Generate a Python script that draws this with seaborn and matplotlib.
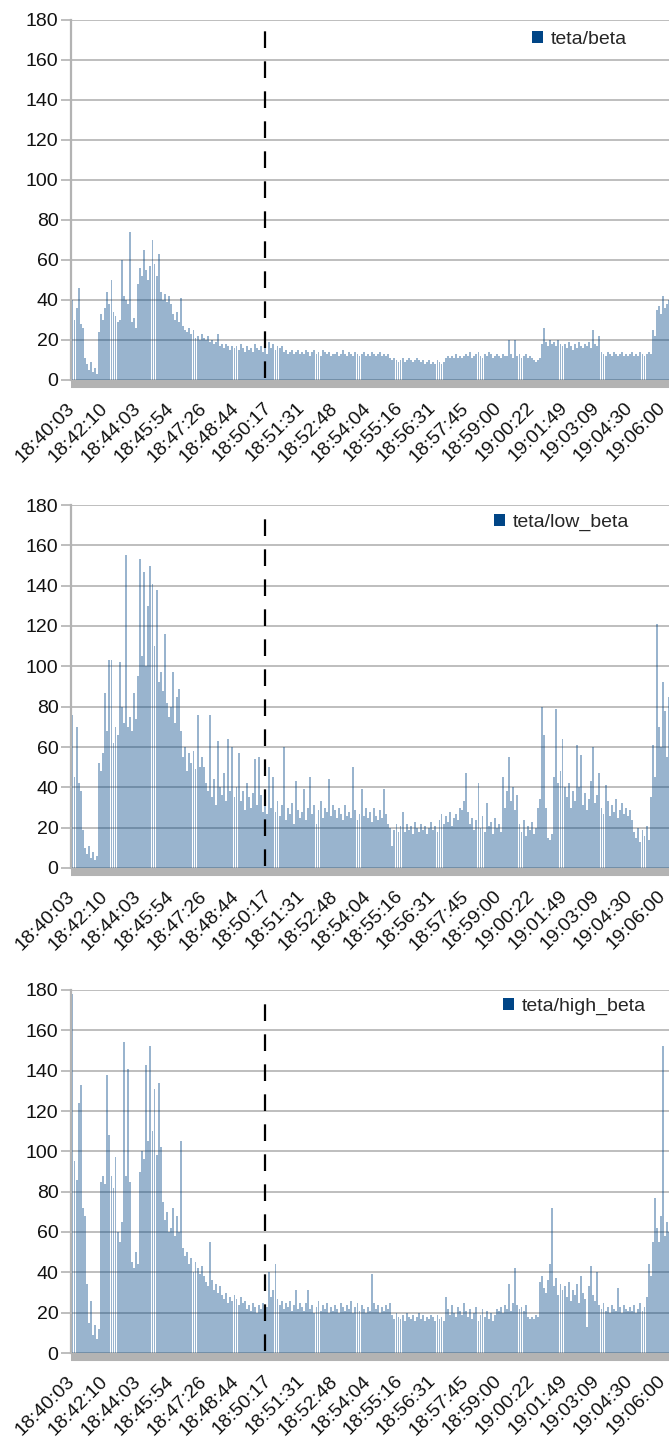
import numpy as np
import pandas as pd
import matplotlib
matplotlib.use("Agg")
import matplotlib.pyplot as plt
import seaborn as sns
from matplotlib.patches import Patch

# ---------------- data ----------------
tick_labels = ["18:40:03", "18:42:10", "18:44:03", "18:45:54", "18:47:26",
               "18:48:44", "18:50:17", "18:51:31", "18:52:48", "18:54:04",
               "18:55:16", "18:56:31", "18:57:45", "18:59:00", "19:00:22",
               "19:01:49", "19:03:09", "19:04:30", "19:06:00"]
samples_per_label = 16
event_index = 94

series_names = ["teta/beta", "teta/low_beta", "teta/high_beta"]

teta_beta = [
    40, 30, 36, 46, 28, 26, 11, 8, 5, 9, 4, 6, 3, 24, 33, 30,
    36, 44, 38, 50, 34, 32, 29, 30, 60, 42, 40, 38, 74, 29, 31, 26,
    48, 56, 52, 65, 55, 50, 57, 70, 58, 52, 63, 44, 40, 43, 39, 42,
    38, 33, 30, 34, 29, 41, 27, 25, 24, 26, 23, 25, 21, 22, 20, 23,
    21, 20, 22, 19, 20, 18, 19, 23, 17, 18, 16, 18, 17, 15, 17, 16,
    17, 15, 18, 16, 14, 17, 15, 16, 14, 18, 16, 15, 17, 14, 16, 13,
    19, 16, 18, 15, 17, 16, 17, 14, 15, 13, 14, 15, 13, 14, 15, 13,
    14, 13, 15, 14, 12, 14, 15, 13, 14, 12, 15, 14, 13, 14, 12, 13,
    13, 14, 12, 13, 15, 13, 12, 14, 13, 12, 14, 13, 12, 13, 14, 12,
    13, 12, 14, 13, 12, 13, 14, 12, 13, 12, 13, 11, 10, 11, 10, 9,
    10, 11, 9, 10, 11, 10, 9, 10, 11, 10, 9, 10, 8, 9, 10, 8,
    9, 8, 10, 9, 8, 9, 11, 12, 11, 12, 11, 13, 11, 12, 11, 12,
    13, 12, 14, 11, 12, 13, 14, 12, 11, 13, 12, 14, 13, 11, 12, 13,
    12, 11, 13, 12, 12, 20, 13, 11, 20, 12, 13, 11, 12, 13, 11, 12,
    11, 10, 9, 10, 11, 18, 26, 19, 17, 20, 18, 19, 17, 20, 18, 17,
    18, 16, 19, 17, 15, 18, 16, 19, 17, 16, 18, 17, 19, 16, 25, 18,
    17, 22, 14, 13, 12, 14, 13, 12, 14, 13, 12, 13, 14, 12, 13, 12,
    13, 14, 12, 13, 12, 14, 13, 12, 13, 14, 13, 25, 22, 35, 37, 33,
    42, 36, 38, 40,
]

teta_low_beta = [
    76, 45, 70, 42, 38, 19, 10, 7, 11, 5, 8, 4, 6, 52, 48, 57,
    87, 68, 103, 103, 62, 70, 66, 102, 80, 72, 155, 70, 75, 68, 87, 74,
    95, 153, 105, 147, 100, 130, 150, 141, 110, 138, 92, 97, 88, 116, 82, 75,
    80, 97, 72, 85, 89, 68, 55, 60, 48, 57, 52, 58, 49, 76, 50, 55,
    50, 42, 38, 76, 35, 44, 31, 63, 40, 36, 47, 33, 64, 38, 60, 35,
    40, 57, 33, 38, 29, 42, 35, 30, 37, 54, 31, 55, 36, 28, 33, 27,
    50, 30, 45, 28, 33, 26, 31, 60, 24, 30, 27, 32, 22, 43, 29, 25,
    28, 39, 24, 30, 45, 27, 31, 22, 29, 33, 25, 30, 28, 44, 26, 31,
    29, 25, 30, 27, 24, 31, 26, 28, 25, 50, 29, 24, 27, 39, 26, 30,
    25, 28, 23, 30, 26, 24, 29, 25, 39, 27, 22, 20, 11, 19, 22, 18,
    21, 28, 18, 22, 19, 21, 17, 23, 20, 18, 22, 19, 21, 17, 20, 23,
    19, 21, 18, 24, 27, 22, 26, 23, 28, 21, 25, 27, 24, 30, 29, 33,
    47, 28, 22, 25, 19, 24, 42, 20, 26, 18, 32, 21, 23, 17, 25, 20,
    22, 18, 45, 30, 38, 55, 33, 40, 29, 36, 22, 18, 24, 16, 21, 19,
    23, 17, 20, 30, 34, 80, 66, 30, 15, 14, 17, 45, 79, 42, 48, 64,
    40, 35, 42, 30, 38, 33, 61, 40, 56, 31, 37, 29, 34, 43, 60, 32,
    36, 47, 30, 27, 41, 33, 26, 31, 28, 34, 25, 29, 32, 27, 30, 26,
    29, 24, 18, 15, 20, 13, 19, 16, 21, 14, 35, 61, 45, 121, 70, 60,
    92, 78, 55, 85,
]

teta_high_beta = [
    178, 95, 86, 124, 133, 72, 68, 34, 15, 26, 9, 14, 7, 12, 85, 88,
    84, 138, 108, 88, 82, 97, 60, 55, 65, 154, 88, 141, 85, 45, 42, 50,
    44, 90, 100, 96, 143, 105, 152, 110, 131, 98, 134, 102, 75, 66, 70, 60,
    62, 72, 58, 68, 60, 105, 52, 48, 50, 44, 47, 40, 45, 42, 39, 43,
    38, 35, 33, 55, 36, 31, 34, 30, 33, 29, 27, 30, 25, 28, 26, 29,
    27, 24, 28, 25, 26, 22, 24, 21, 25, 23, 20, 24, 22, 25, 21, 23,
    40, 28, 31, 44, 27, 24, 26, 22, 25, 23, 26, 21, 24, 31, 22, 25,
    23, 21, 25, 31, 22, 24, 20, 23, 26, 21, 24, 22, 25, 20, 23, 21,
    24, 22, 20, 25, 23, 21, 24, 22, 26, 20, 23, 25, 21, 24, 22, 20,
    23, 21, 39, 25, 22, 24, 20, 23, 21, 24, 22, 25, 19, 17, 20, 18,
    17, 19, 16, 20, 18, 17, 19, 16, 18, 20, 17, 19, 16, 18, 17, 19,
    18, 16, 19, 17, 18, 16, 28, 22, 19, 24, 20, 18, 23, 21, 19, 25,
    21, 18, 22, 17, 20, 23, 16, 19, 22, 18, 21, 17, 20, 16, 19, 22,
    21, 23, 20, 24, 22, 34, 21, 25, 42, 24, 22, 23, 21, 24, 18, 17,
    18, 17, 19, 18, 35, 38, 32, 30, 36, 44, 72, 33, 37, 29, 34, 31,
    33, 28, 35, 26, 31, 29, 34, 25, 38, 30, 27, 13, 33, 43, 29, 26,
    40, 24, 22, 25, 21, 23, 20, 24, 22, 21, 32, 23, 20, 24, 22, 21,
    23, 21, 24, 20, 22, 25, 21, 23, 28, 44, 38, 55, 77, 62, 55, 68,
    152, 58, 65, 60,
]

panel_values = [teta_beta, teta_low_beta, teta_high_beta]

# ---------------- style / layout ----------------
W, H = 669, 1437
sns.set_theme(style="white")
plt.rcParams["font.family"] = ["Liberation Sans", "DejaVu Sans"]
plt.rcParams["font.size"] = 14

bar_color = "#004586"
grid_color = "#b3b3b3"
text_color = "#111111"
font_pt = 14

panel_px = [(20, 380), (505, 868), (990, 1353)]   # (top, zero-line) in pixels
axis_left_px = 71
legend_anchor = [(0.771, 0.970), (0.708, 0.975), (0.723, 0.978)]
px_per_sample = 2.052
first_bar_px = 72.0

fig = plt.figure(figsize=(W / 100, H / 100), dpi=100)
fig.patch.set_facecolor("white")

for vals, name, (top, bot), lpos in zip(panel_values, series_names, panel_px, legend_anchor):
    ax = fig.add_axes([axis_left_px / W, 1 - bot / H, (W - axis_left_px) / W, (bot - top) / H])
    df = pd.DataFrame({"sample": np.arange(len(vals)), "value": vals})
    sns.barplot(data=df, x="sample", y="value", color=bar_color, saturation=1,
                alpha=0.40, width=0.92, errorbar=None, ax=ax, zorder=2,
                linewidth=0, native_scale=True)

    # spines first (set_position resets the tick objects)
    for s in ("top", "right"):
        ax.spines[s].set_visible(False)
    ax.spines["left"].set_color(grid_color)
    ax.spines["left"].set_linewidth(1.6)
    ax.spines["bottom"].set_color(grid_color)
    ax.spines["bottom"].set_linewidth(5.8)
    ax.spines["bottom"].set_capstyle("butt")
    ax.spines["bottom"].set_position(("outward", 2.9))

    ax.tick_params(axis="x", bottom=True, length=0, pad=15.5, labelsize=font_pt,
                   labelcolor=text_color)
    ax.tick_params(axis="y", left=True, length=7, width=1.2, color=grid_color,
                   pad=2, labelsize=font_pt, labelcolor=text_color)

    ax.set_ylim(0, 180)
    ax.set_yticks(np.arange(0, 181, 20))
    left = -(first_bar_px - axis_left_px + 0.5) / px_per_sample
    right = (W - first_bar_px) / px_per_sample
    ax.set_xlim(left, right)
    tick_pos = np.arange(len(tick_labels)) * samples_per_label
    ax.set_xticks(tick_pos, labels=tick_labels, rotation=45, ha="right",
                  va="center", rotation_mode="anchor")
    ax.set_xlabel("")
    ax.set_ylabel("")

    ax.yaxis.grid(True, color=grid_color, linewidth=1.2, zorder=0)
    ax.xaxis.grid(False)
    ax.set_axisbelow(True)

    ax.axvline(event_index, ymin=0.005, ymax=0.972, color="black",
               linewidth=1.6, linestyle=(0, (7.5, 6)), zorder=4)

    handle = Patch(facecolor=bar_color, edgecolor="none", label=name)
    ax.legend(handles=[handle], loc="upper left", bbox_to_anchor=lpos,
              frameon=False, handlelength=0.55, handleheight=0.55,
              handletextpad=0.4, borderpad=0, borderaxespad=0, fontsize=font_pt)

fig.savefig("out.png", dpi=100, facecolor="white")
